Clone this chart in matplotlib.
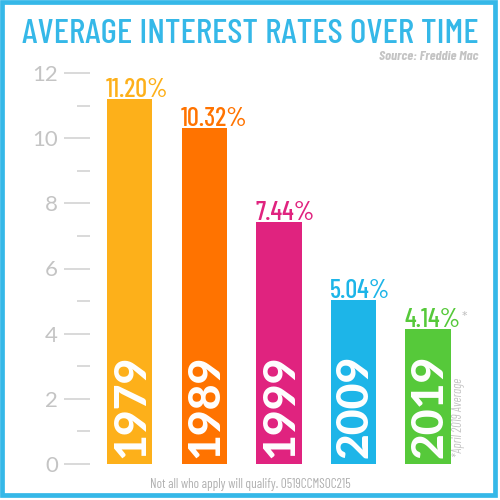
import matplotlib.pyplot as plt
from matplotlib.patches import Rectangle
from matplotlib.ticker import MultipleLocator

years = ["1979", "1989", "1999", "2009", "2019"]
rates = [11.20, 10.32, 7.44, 5.04, 4.14]
rate_labels = ["11.20%", "10.32%", "7.44%", "5.04%", "4.14%"]
colors = ["#FDB01A", "#FF7300", "#E0237F", "#1DB5E8", "#56C93A"]

blue = "#35B8E8"
gray = "#c4c4c4"
cond = ["Barlow Condensed", "Roboto Condensed", "DejaVu Sans"]
geo = ["Lato", "DejaVu Sans"]

fig = plt.figure(figsize=(5, 5), dpi=100)
ax = fig.add_axes([0.18, 0.072, 0.78, 0.782])

x = list(range(len(years)))
bar_w = 0.61
ax.bar(x, rates, width=bar_w, color=colors, zorder=2)

for i in x:
    ax.text(i - bar_w / 2 - 0.01, rates[i] - 0.1, rate_labels[i], ha="left", va="bottom",
            color=colors[i], fontsize=19, fontweight="medium", family=cond)
    ax.text(i + 0.02, 0.18, years[i], rotation=90, ha="center", va="bottom",
            color="white", fontsize=32, fontweight="black", family=geo)

# asterisk note for 2019
ax.text(4 + bar_w / 2 + 0.15, rates[4] + 0.12, "*", ha="left", va="bottom", color=gray,
        fontsize=11, family=cond)
ax.text(4 + bar_w / 2 + 0.11, 0.2, "*April 2019 Average", rotation=90, ha="center", va="bottom",
        color=gray, fontsize=9, style="italic", family=cond)

ax.set_xlim(-0.533, 4.7)
ax.set_ylim(0, 12)
ax.yaxis.set_major_locator(MultipleLocator(2))
ax.yaxis.set_minor_locator(MultipleLocator(1))
ax.tick_params(axis="y", which="major", length=19, width=1.1, color="#d0d0d0",
               labelcolor=gray, labelsize=16, pad=4)
ax.tick_params(axis="y", which="minor", length=9.5, width=1.1, color="#d0d0d0")
for lab in ax.get_yticklabels():
    lab.set_family(geo)
ax.set_xticks([])
for s in ax.spines.values():
    s.set_visible(False)
ax.patch.set_alpha(0)

fig.text(0.5, 0.931, "AVERAGE INTEREST RATES OVER TIME", ha="center", va="center",
         color=blue, fontsize=25.5, fontweight="medium", family=cond)
fig.text(0.957, 0.886, "Source: Freddie Mac", ha="right", va="center", color=gray,
         fontsize=10, style="italic", fontweight="bold", family=cond)
fig.text(0.5, 0.031, "Not all who apply will qualify. 0519CCMSOC215", ha="center", va="center",
         color="#b0b0b0", fontsize=9.5, family=cond)

fig.patches.append(Rectangle((0.004, 0.01), 0.985, 0.986, transform=fig.transFigure,
                             fill=False, ec=blue, lw=3.4))

fig.savefig("out.png", dpi=100)
